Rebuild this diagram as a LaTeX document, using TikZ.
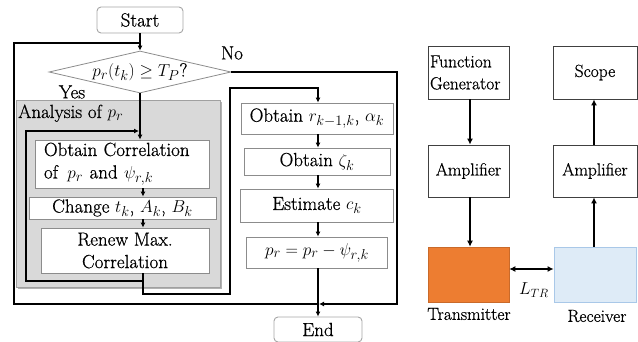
\documentclass[tikz,border=0pt]{standalone}
\usepackage{fontspec}
\setmainfont{Latin Modern Roman}[FakeBold=0.7]
\usetikzlibrary{shapes.geometric,arrows.meta}
\definecolor{boxgray}{HTML}{8C8C8C}
\definecolor{termgray}{HTML}{A6A6A6}
\definecolor{panelgray}{HTML}{D9D9D9}
\definecolor{paneledge}{HTML}{A0A0A0}
\definecolor{txorange}{HTML}{ED7D31}
\definecolor{rxblue}{HTML}{DEEBF7}
\definecolor{rxedge}{HTML}{A9C8E8}
\begin{document}
\begin{tikzpicture}[x=1pt,y=-1pt,
  txt/.style={font=\fontsize{19}{22.5}\selectfont},
  rtxt/.style={font=\fontsize{17.5}{22}\selectfont},
  box/.style={draw=boxgray, line width=0.8pt, fill=white, inner sep=0pt, txt},
  term/.style={draw=termgray, line width=0.9pt, fill=white, rounded corners=4pt, inner sep=0pt, txt},
  dev/.style={draw=black!75, line width=0.8pt, fill=white, inner sep=0pt, rtxt,
    minimum width=82pt, minimum height=53pt},
  link/.style={line width=1.5pt, line join=miter},
  flow/.style={link, -{Latex[length=5pt,width=5pt]}},
  flowb/.style={line width=1.8pt, -{Latex[length=6pt,width=6pt]}}]
\useasboundingbox (0,0) rectangle (638,342);

% ---- analysis panel with its shadow
\fill[black!30] (18,102) rectangle (222,289);
\draw[paneledge, fill=panelgray, line width=0.8pt] (16,100) rectangle (220,287);
\node[txt, anchor=base west, inner sep=0pt] (anl) at (18,118) {Analysis of $p_r$};

% ---- flowchart nodes
\node[term, minimum width=86pt, minimum height=26pt] (start) at (140,20) {Start};
\node[diamond, draw=boxgray, line width=0.8pt, fill=white, inner sep=0pt,
      minimum width=182pt, minimum height=42pt] (dia) at (140,72) {};
\node[txt, inner sep=0pt] (q) at (140,72) {$p_r(t_k)\geq T_P$?};
\node[txt, inner sep=0pt] (yes) at (72,92) {Yes};
\node[txt, inner sep=0pt] (no) at (232,53) {No};

\node[box, minimum height=48pt, text width=156pt, inner xsep=9pt, align=left]
  (corr) at (122,164) {Obtain Correlation\\of \,$p_r$ and $\psi_{r,k}$};
\node[box, minimum width=187pt, minimum height=22pt] (chg) at (122.5,208)
  {Change $t_k$, $A_k$, $B_k$};
\node[box, minimum width=168pt, minimum height=45pt, align=center] (renew) at (125,250.5)
  {Renew Max.\\Correlation};

\node[box, minimum width=152pt, minimum height=31pt] (obr) at (317,118.5)
  {Obtain $r_{k-1,k}$, $\alpha_k$};
\node[box, minimum width=146pt, minimum height=27pt] (obz) at (317,161.5)
  {Obtain $\zeta_k$};
\node[box, minimum width=153pt, minimum height=33pt] (est) at (317,205.5)
  {Estimate $c_k$};
\node[box, minimum width=141pt, minimum height=31pt] (upd) at (317,252.5)
  {$p_r = p_r - \psi_{r,k}$};
\node[term, minimum width=88pt, minimum height=25pt] (end) at (318,329.5) {End};

% ---- helper coordinates
\coordinate (cx) at (143,0);
\coordinate (loopin) at (139,131);
\coordinate (join) at (319,304);

% ---- flowchart connectors
\draw[flow] (start) -- (dia.north);
\draw[flow] (dia.south) -- (dia.south |- corr.north);
\draw[flow] (cx |- corr.south) -- (cx |- chg.north);
\draw[flow] (cx |- chg.south) -- (cx |- renew.north);
\draw[flow] (cx |- renew.south) -- (143,281) -- (26,281) -- (26,131) -- (loopin);
\draw[flow] (cx |- renew.south) -- (143,294) -- (230,294) -- (230,88) -- (318,88) -- (obr.north -| 318,0);
\draw[flow] (obr.south -| 318,0) -- (obz.north -| 318,0);
\draw[flow] (obz.south -| 318,0) -- (est.north -| 318,0);
\draw[flow] (est.south -| 318,0) -- (upd.north -| 318,0);
\draw[flow] (upd.south -| 318,0) -- (end.north);
\draw[flow] (dia.east) -- (397,72) -- (397,304) -- (join);
\draw[link] (join) -- (14,304) -- (14,43) -- (140,43);

% ---- measurement setup
\node[dev, minimum width=81pt, text width=77pt, inner xsep=2pt, align=left] (fg) at (468.5,72.5)
  {Function\\Generator};
\node[dev, minimum width=84pt] (scope) at (595,72.5) {Scope};
\node[dev, minimum width=81pt, minimum height=52pt] (amp1) at (468.5,171) {Amplifier};
\node[dev, minimum width=84pt, minimum height=52pt] (amp2) at (595,171) {Amplifier};
\node[draw=txorange!85!black, fill=txorange, line width=0.6pt, minimum width=81pt,
      minimum height=55pt, inner sep=0pt] (tx) at (468.5,274.5) {};
\node[draw=rxedge, fill=rxblue, line width=0.8pt, minimum width=82pt,
      minimum height=55pt, inner sep=0pt] (rcv) at (595,274.5) {};
\node[rtxt, inner sep=0pt] (txl) at (469,314) {Transmitter};
\node[rtxt, inner sep=0pt] (rxl) at (597,316) {Receiver};
\node[rtxt, inner sep=0pt] (ltr) at (534,290) {$L_{TR}$};

\draw[flowb] (fg.south -| 470,0) -- (amp1.north -| 470,0);
\draw[flowb] (amp1.south -| 470,0) -- (tx.north -| 470,0);
\draw[flowb] (rcv.north -| 594,0) -- (amp2.south -| 594,0);
\draw[flowb] (amp2.north -| 594,0) -- (scope.south -| 594,0);
\draw[line width=1.8pt, {Latex[length=6pt,width=6pt]}-{Latex[length=6pt,width=6pt]}]
  (tx.east |- 0,269) -- (rcv.west |- 0,269);
\end{tikzpicture}
\end{document}
